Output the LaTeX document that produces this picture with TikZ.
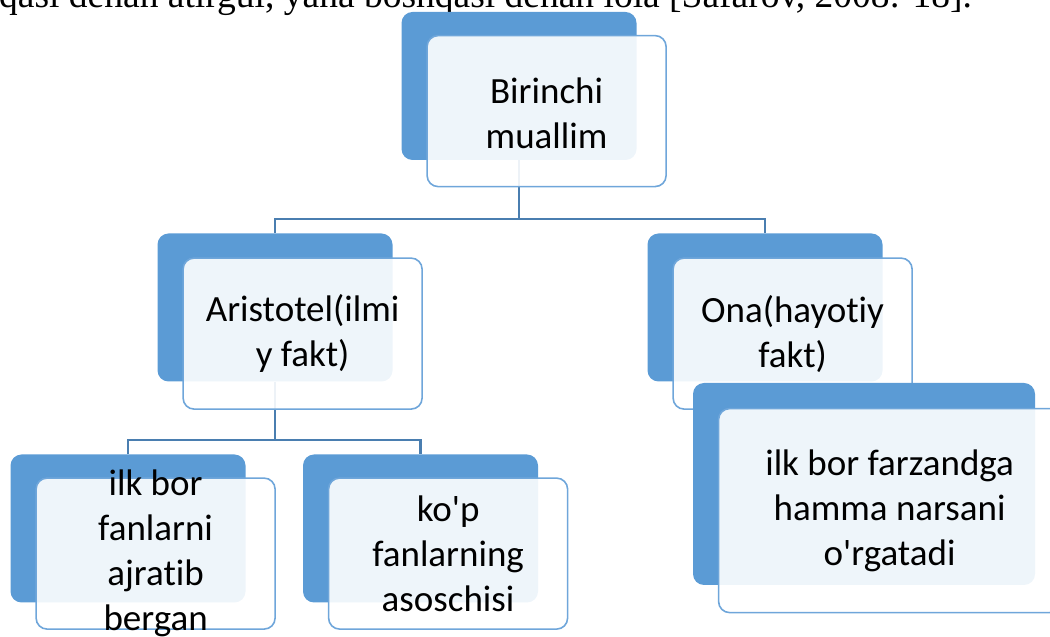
\documentclass[tikz,border=0pt]{standalone}
\usepackage{fontspec}
\setmainfont{Carlito}[Ligatures=TeXOff, RawFeature=-liga]
\newfontfamily\bodyserif{Liberation Serif}
\usepackage{xcolor}
\definecolor{BoxBlue}{HTML}{5B9BD5}
\definecolor{EdgeBlue}{HTML}{6FA6DA}
\definecolor{LinkBlue}{HTML}{4A7EB0}
\usetikzlibrary{positioning}

\tikzset{
    backbox/.style={fill=BoxBlue, rounded corners=11pt, minimum width=235pt, minimum height=148pt, inner sep=0pt},
    frontbox/.style={draw=EdgeBlue, line width=1.6pt, fill=white, fill opacity=0.9, rounded corners=11pt,
        minimum width=239pt, minimum height=151pt, inner sep=0pt, anchor=north west},
    boxtext/.style={align=center, inner sep=0pt, text=black, font=\fontsize{37}{45}\selectfont},
    link/.style={draw=LinkBlue, line width=2.8pt},
}

\begin{document}
\begin{tikzpicture}[x=1pt,y=1pt]
        %  Page frame
        \clip (0,0) rectangle (1050,637);

        % Running text of the page, cut at the top
        \node (runtext) [anchor=base west, inner sep=0pt, font=\bodyserif\fontsize{37.5}{44}\selectfont] at (-1,629.5)
            {qasi dehan atirgul, yana boshqasi dehan lola [Safarov, 2008: 18].};

        % Back plates
        \node (birinchi-bg) [backbox] at (519,551) {};
        \node (aristotel-bg) [backbox] at (275,329.5) {};
        \node (ona-bg) [backbox] at (765,329.5) {};
        \node (fanlar-bg) [backbox] at (128,108.5) {};
        \node (asoschi-bg) [backbox] at (420.5,108.5) {};

        % Connectors
        \coordinate (fork-top) at (519,418);
        \coordinate (fork-left) at (275,197);
        \draw [link] (birinchi-bg.south) -- (fork-top) -| (aristotel-bg.north);
        \draw [link] (fork-top) -| (ona-bg.north);
        \draw [link] (aristotel-bg.south) -- (fork-left) -| (fanlar-bg.north);
        \draw [link] (fork-left) -| (asoschi-bg.north);

        % Front cards
        \node (birinchi) [frontbox] at ([shift={(25,-23)}]birinchi-bg.north west) {};
        \node (birinchi-txt) [boxtext] at ([yshift=-2pt]birinchi.center) {Birinchi\\muallim};

        \node (aristotel) [frontbox] at ([shift={(25,-24)}]aristotel-bg.north west) {};
        \node (aristotel-txt) [boxtext] at (aristotel.center) {Aristotel(ilmi\\y fakt)};

        \node (ona) [frontbox] at ([shift={(25,-24)}]ona-bg.north west) {};
        \node (ona-txt) [boxtext] at (ona.center) {Ona(hayotiy\\fakt)};

        \node (fanlar) [frontbox] at ([shift={(25,-23)}]fanlar-bg.north west) {};
        \node (fanlar-txt) [boxtext] at (fanlar.center) {ilk bor\\fanlarni\\ajratib\\bergan};

        \node (asoschi) [frontbox] at ([shift={(25,-23)}]asoschi-bg.north west) {};
        \node (asoschi-txt) [boxtext] at (asoschi.center) {ko'p\\fanlarning\\asoschisi};

        % Lower right card, over the Ona card
        \node (farzand-bg) [backbox, minimum width=342pt, minimum height=202pt] at (864,153) {};
        \node (farzand) [frontbox, minimum width=342pt, minimum height=204pt] at ([shift={(25,-25)}]farzand-bg.north west) {};
        \node (farzand-txt) [boxtext] at (farzand.center) {ilk bor farzandga\\hamma narsani\\o'rgatadi};
\end{tikzpicture}
\end{document}
